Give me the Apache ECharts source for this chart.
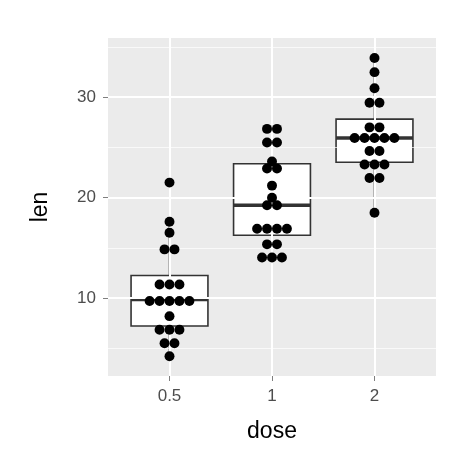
<!DOCTYPE html>
<html><head><meta charset="utf-8">
<script src="https://cdn.jsdelivr.net/npm/echarts@6/dist/echarts.min.js"></script>
<style>html,body{margin:0;background:#fff}#c{width:474px;height:474px}</style>
</head><body><div id="c"></div>
<script>
var doses = ['0.5', '1', '2'];
var len05 = [4.2, 11.5, 7.3, 5.8, 6.4, 10, 11.2, 11.2, 5.2, 7, 15.2, 21.5, 17.6, 9.7, 14.5, 10, 8.2, 9.4, 16.5, 9.7];
var len1 = [16.5, 16.5, 15.2, 17.3, 22.5, 17.3, 13.6, 14.5, 18.8, 15.5, 19.7, 23.3, 23.6, 26.4, 20, 25.2, 25.8, 21.2, 14.5, 27.3];
var len2 = [23.6, 18.5, 33.9, 25.5, 26.4, 32.5, 26.7, 21.5, 23.3, 29.5, 25.5, 26.4, 22.4, 24.5, 24.8, 30.9, 26.4, 27.3, 29.4, 23];
var yMajor = [10, 20, 30];
var yMinor = [5, 15, 25, 35];

var groups = [len05, len1, len2];
function quant(s, p) {
    var h = (s.length - 1) * p, lo = Math.floor(h);
    return s[lo] + (h - lo) * ((s[lo + 1] !== undefined ? s[lo + 1] : s[lo]) - s[lo]);
}
var boxes = [];
groups.forEach(function (g, i) {
    var s = g.slice().sort(function (a, b) { return a - b; });
    var q1 = quant(s, 0.25), q3 = quant(s, 0.75), iqr = q3 - q1;
    var lo = s.filter(function (v) { return v >= q1 - 1.5 * iqr; })[0];
    var hi = s.filter(function (v) { return v <= q3 + 1.5 * iqr; }).pop();
    boxes.push([i + 1, lo, q1, quant(s, 0.5), q3, hi]);
});
// dotdensity binning
var all = [].concat(len05, len1, len2);
var bw = (Math.max.apply(null, all) - Math.min.apply(null, all)) / 30;
var dots = [];
groups.forEach(function (g, i) {
    var s = g.slice().sort(function (a, b) { return a - b; });
    var k = 0;
    while (k < s.length) {
        var start = s[k], bin = [];
        while (k < s.length && s[k] < start + bw) { bin.push(s[k]); k++; }
        var c = (bin[0] + bin[bin.length - 1]) / 2;
        for (var j = 0; j < bin.length; j++) dots.push([i + 1, c, j - (bin.length - 1) / 2]);
    }
});

var chart = echarts.init(document.getElementById('c'));
var gridLine = function (vals, w) {
    return vals.map(function (v) { return { yAxis: v, lineStyle: { width: w } }; });
};
chart.setOption({
    animation: false,
    grid: { left: 108, top: 38, width: 328, height: 338, show: true, backgroundColor: '#EBEBEB', borderWidth: 0 },
    xAxis: {
        type: 'value', min: 0.4, max: 3.6, interval: 1,
        name: 'dose', nameLocation: 'middle', nameGap: 44,
        nameTextStyle: { color: '#000', fontSize: 23, fontFamily: 'Liberation Sans' },
        axisLine: { show: false }, splitLine: { show: false },
        axisTick: { show: true, length: 5, lineStyle: { color: '#7F7F7F' }, customValues: [1, 2, 3] },
        axisLabel: { color: '#4D4D4D', fontSize: 17, margin: 12, fontFamily: 'Liberation Sans',
            customValues: [1, 2, 3],
            formatter: function (v) { return doses[Math.round(v) - 1] || ''; } }
    },
    yAxis: {
        type: 'value', min: 2.24, max: 35.9,
        name: 'len', nameLocation: 'middle', nameGap: 56,
        nameTextStyle: { color: '#000', fontSize: 23, fontFamily: 'Liberation Sans' },
        axisLine: { show: false }, splitLine: { show: false },
        axisTick: { show: true, length: 5, lineStyle: { color: '#7F7F7F' }, customValues: yMajor },
        axisLabel: { color: '#4D4D4D', fontSize: 17, margin: 12, fontFamily: 'Liberation Sans', customValues: yMajor }
    },
    series: [{
        type: 'custom', data: boxes, silent: true,
        markLine: {
            silent: true, symbol: 'none', label: { show: false },
            lineStyle: { color: '#fff', type: 'solid' },
            data: gridLine(yMinor, 0.7).concat(gridLine(yMajor, 2))
                .concat([1, 2, 3].map(function (v) { return { xAxis: v, lineStyle: { width: 2 } }; }))
        },
        renderItem: function (params, api) {
            var x = api.value(0), hw = 0.375;
            var l = api.coord([x - hw, 0])[0], r = api.coord([x + hw, 0])[0];
            var cx = api.coord([x, 0])[0];
            var y = function (v) { return api.coord([x, v])[1]; };
            var st = { stroke: '#333', lineWidth: 1.6, fill: null };
            return { type: 'group', children: [
                { type: 'line', shape: { x1: cx, y1: y(api.value(1)), x2: cx, y2: y(api.value(2)) }, style: st },
                { type: 'line', shape: { x1: cx, y1: y(api.value(4)), x2: cx, y2: y(api.value(5)) }, style: st },
                { type: 'rect', shape: { x: l, y: y(api.value(4)), width: r - l, height: y(api.value(2)) - y(api.value(4)) },
                  style: { stroke: '#333', lineWidth: 1.6, fill: '#fff' } },
                { type: 'line', shape: { x1: l, y1: y(api.value(3)), x2: r, y2: y(api.value(3)) },
                  style: { stroke: '#333', lineWidth: 3.5 } }
            ] };
        }
    }, {
        type: 'custom', data: dots, silent: true, z: 5,
        renderItem: function (params, api) {
            var p = api.coord([api.value(0), api.value(1)]);
            var d = Math.abs(api.coord([0, 0])[1] - api.coord([0, bw])[1]);
            return { type: 'circle', shape: { cx: p[0] + api.value(2) * d, cy: p[1], r: d / 2 },
                style: { fill: '#000' } };
        }
    }]
});
</script></body></html>
